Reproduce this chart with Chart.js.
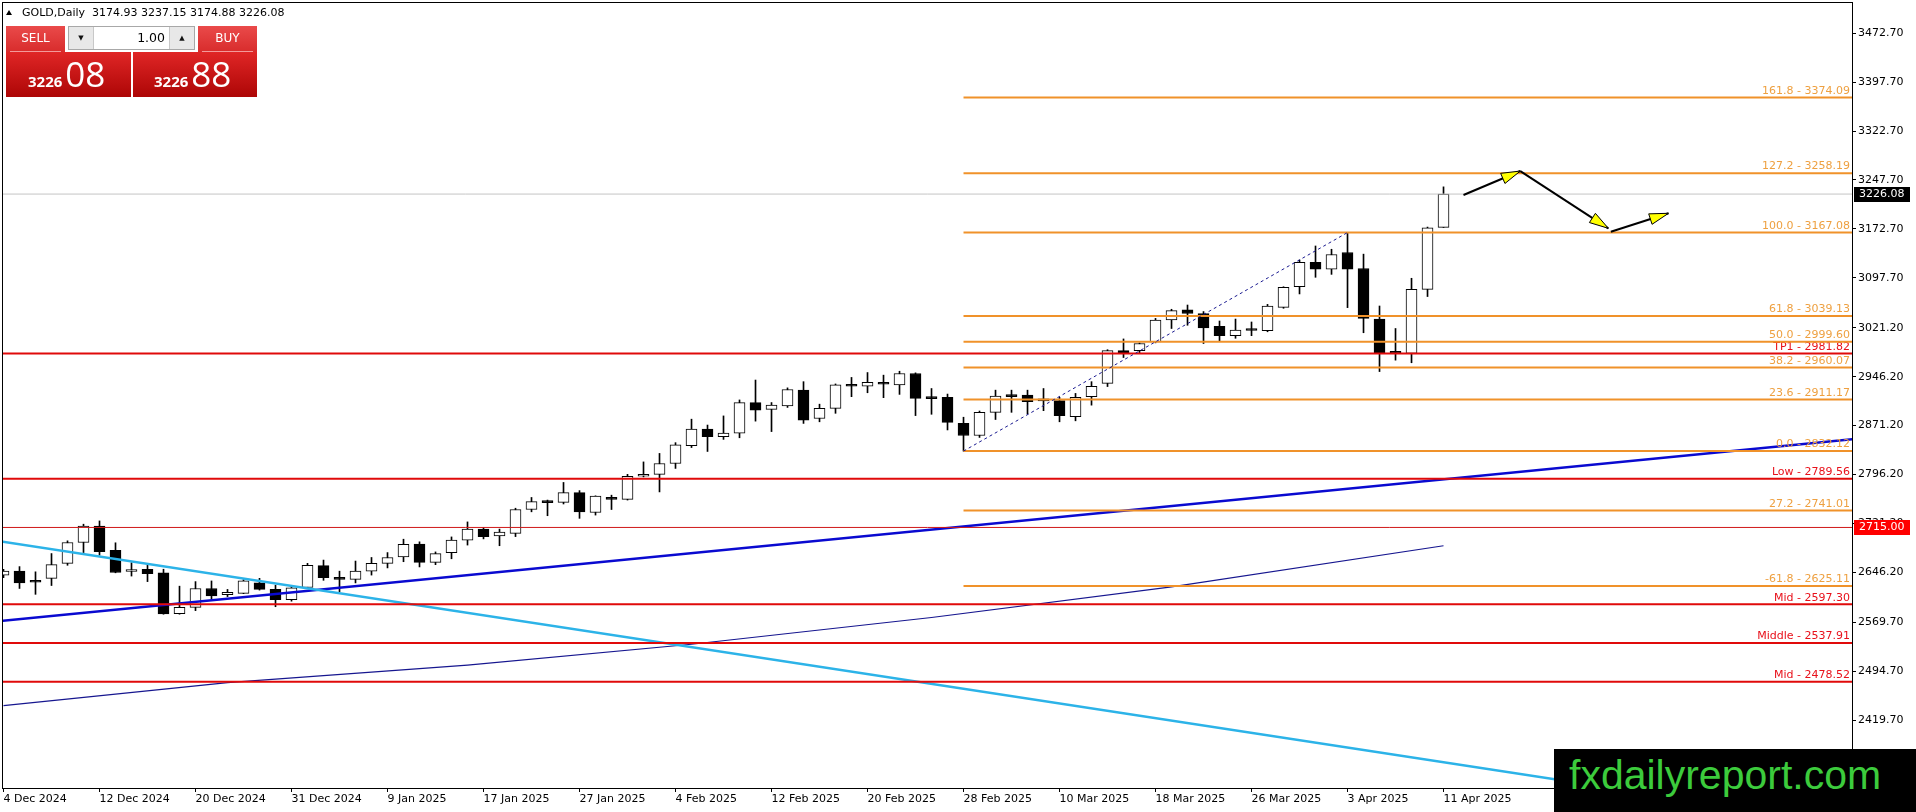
<!DOCTYPE html>
<html>
<head>
<meta charset="utf-8">
<script src="https://cdn.jsdelivr.net/npm/chart.js@4.4.1/dist/chart.umd.min.js"></script>
<style>
html, body { margin: 0; padding: 0; background: #fff; }
#wrap { position: relative; width: 1916px; height: 812px; overflow: hidden; font-family: 'DejaVu Sans', sans-serif; }
#c { position: absolute; left: 0; top: 0; }
.tri { position: absolute; left: 6px; top: 10px; width: 0; height: 0; border-left: 3.5px solid transparent; border-right: 3.5px solid transparent; border-bottom: 5px solid #000; }
.hdr { position: absolute; left: 22px; top: 6px; font-size: 11px; line-height: 14px; color: #000; white-space: pre; }
.btn { position: absolute; top: 26px; height: 26px; background: linear-gradient(#ea4a4a, #d82c2c); color: #fff; font-size: 12px; line-height: 24px; text-align: center; }
.btn::after { content: ''; position: absolute; left: 4px; right: 4px; bottom: 0; height: 1px; background: #f39a9a; }
.spin { position: absolute; left: 68px; top: 26px; width: 125px; height: 22px; border: 1px solid #a8a8a8; background: #fff; }
.spin .arr { position: absolute; top: 0; width: 24px; height: 22px; background: #e8e8e8; font-size: 7px; line-height: 22px; text-align: center; color: #111; }
.spin .val { position: absolute; right: 29px; top: 0; font-size: 12.5px; line-height: 22px; color: #000; }
.pbox { position: absolute; top: 52px; height: 45px; background: linear-gradient(#e02626, #ad0606); color: #fff; }
.pbox .num { position: absolute; left: 22px; bottom: 6px; line-height: 1; white-space: nowrap; font-family: 'Open Sans', sans-serif; }
.pbox .sm { font-size: 15px; font-weight: 700; }
.pbox .bg { font-size: 35px; margin-left: 3px; }
.wm { position: absolute; left: 1554px; top: 749px; width: 362px; height: 63px; background: #000; }
.wm span { position: absolute; left: 15px; top: 6px; font-family: 'Liberation Sans', Arial, sans-serif; font-size: 41px; line-height: 1; color: #3ccb3c; white-space: nowrap; }
</style>
</head>
<body>
<div id="wrap">
  <canvas id="c" width="1916" height="812"></canvas>
  <div class="tri"></div>
  <div class="hdr">GOLD,Daily  3174.93 3237.15 3174.88 3226.08</div>
  <div class="btn" style="left:6px;width:59px;">SELL</div>
  <div class="spin">
    <div class="arr" style="left:0;border-right:1px solid #c8c8c8;">&#9660;</div>
    <div class="val">1.00</div>
    <div class="arr" style="right:0;border-left:1px solid #c8c8c8;">&#9650;</div>
  </div>
  <div class="btn" style="left:198px;width:59px;">BUY</div>
  <div class="pbox" style="left:6px;width:125px;"><div class="num"><span class="sm">3226</span><span class="bg">08</span></div></div>
  <div class="pbox" style="left:133px;width:124px;"><div class="num" style="left:21px;"><span class="sm">3226</span><span class="bg">88</span></div></div>
  <div class="wm"><span>fxdailyreport.com</span></div>
</div>
<script>
// daily candles, 4 Dec 2024 .. 11 Apr 2025
const opens = [2642,2648,2633,2637,2660,2692,2717,2680,2647.5,2651,
  2645.5,2583,2592.5,2621.5,2612,2614,2630,2620,2604.5,2623,
  2656.5,2638.5,2635.5,2648,2660,2670,2689.5,2661.5,2676.5,2695.5,
  2712.5,2702,2706,2742.5,2755,2753.5,2768.5,2738,2761,2758,
  2793.5,2796.5,2813,2840.5,2866,2854,2859.5,2906.5,2896,2901.5,
  2925.5,2882,2897.5,2933.5,2931.5,2937.5,2933.5,2951,2914,2914.5,
  2874.5,2856,2891.5,2918,2918,2910.5,2909.5,2885,2915.5,2936,
  2986,2986,2999.5,3033,3048.5,3043,3023.5,3009,3019,3016.5,
  3052.5,3084,3121.5,3111,3136.5,3112,3034.5,2982.5,2982,3080,
  3174.93];
const highs = [2651,2655,2647,2675,2694.5,2720,2725,2691.5,2661,2657,
  2651,2625,2632,2633,2620,2635,2637,2626.5,2625,2660,
  2665,2648,2663.5,2669,2676.5,2697,2693,2677.5,2700.5,2723.5,
  2715,2712.5,2744.5,2761,2757,2784,2771.5,2763.5,2764.5,2796.5,
  2815.5,2828.5,2845,2881,2872,2886,2910.5,2941,2906.5,2929,
  2938.5,2904,2935,2945,2952.5,2948.5,2954.5,2952,2928,2919.5,
  2884,2893.5,2925.5,2925.5,2925.5,2928,2914.5,2920.5,2938.5,2987.5,
  3004,2998,3035.5,3049.5,3056,3046,3031.5,3034.5,3030,3057,
  3084,3125,3146.5,3141.5,3167.08,3134,3054.5,3020,3097,3175.5,
  3237.15];
const lows = [2638,2621.5,2612.5,2626,2657,2676.5,2672.5,2645.5,2640.5,2632,
  2582,2582,2587.5,2605,2609,2613.5,2619,2593.5,2602,2621.5,
  2634,2616.5,2630,2642,2653,2662.5,2654.5,2658,2667,2688,
  2697.5,2687,2701,2739,2733,2751,2729,2734,2742.5,2757,
  2792.5,2769.5,2805.5,2837.5,2831.5,2850,2852.5,2878,2862,2899,
  2874.5,2877,2890,2915.5,2921.5,2914,2919,2886.5,2888.5,2864.5,
  2832.12,2853,2880.5,2891.5,2889,2894,2877,2878.5,2902.5,2931,
  2975.5,2982,2998,3020,3025,2997,3001,3005,3009,3015,
  3051,3073,3098.5,3103,3052,3013.5,2954,2971.5,2967.5,3069,
  3174.88];
const closes = [2648,2630,2631,2658,2692,2717,2678,2646,2650.5,2644,
  2582.5,2592.5,2621.5,2610,2615.5,2633,2620,2604.5,2622.5,2657,
  2638,2635.5,2648,2660,2669,2689,2661.5,2675,2695.5,2712.5,
  2701,2708,2742.5,2754.5,2753,2768.5,2739,2763,2758,2793.5,
  2796.5,2813,2841.5,2866,2854,2859.5,2906.5,2895,2902.5,2926.5,
  2879.5,2897.5,2933.5,2931.5,2937.5,2934.5,2951,2913,2912.5,2876,
  2856,2891.5,2916.5,2915.5,2908,2909,2886.5,2914.5,2931.5,2986,
  2982,2997,3033,3047.5,3043,3021,3009,3017.5,3017,3054.5,
  3083,3121.5,3111,3133.5,3111,3035.5,2982,2982,3080,3174.5,
  3226.08];

const tickBars = [0,6,12,18,24,30,36,42,48,54,60,66,72,78,84,90];
const tickDates = ['4 Dec 2024','12 Dec 2024','20 Dec 2024','31 Dec 2024','9 Jan 2025','17 Jan 2025',
  '27 Jan 2025','4 Feb 2025','12 Feb 2025','20 Feb 2025','28 Feb 2025','10 Mar 2025',
  '18 Mar 2025','26 Mar 2025','3 Apr 2025','11 Apr 2025'];
const priceTicks = [3472.70,3397.70,3322.70,3247.70,3172.70,3097.70,3021.20,2946.20,2871.20,
  2796.20,2721.20,2646.20,2569.70,2494.70,2419.70];

// fibonacci from the 28 Feb low to the 3 Apr high
const fibNames = ['161.8','127.2','100.0','61.8','50.0','38.2','23.6','0.0','27.2','-61.8'];
const fibValues = [3374.09,3258.19,3167.08,3039.13,2999.60,2960.07,2911.17,2832.12,2741.01,2625.11];
const fibFrom = 60, fibTo = 84;

const redNames = ['TP1','Low','Mid','Middle','Mid'];
const redValues = [2981.82,2789.56,2597.30,2537.91,2478.52];
const markLevel = 2715.00;

// trend lines: [bar, price, bar, price]
const blueLine = [-0.2, 2571.5, 115.6, 2850.3];
const cyanLine = [-0.2, 2693.9, 110, 2280];
// slow moving average read at a few bars
const maBars = [0, 14, 29, 43, 58, 73, 90];
const maValues = [2442, 2477, 2504, 2536, 2577, 2624, 2687];
// projected path drawn with arrows
const arrows = [[91.25, 3224.7, 94.8, 3261.4], [94.8, 3261.4, 100.3, 3173.6], [100.46, 3168.4, 104.06, 3196.6]];

const xMin = -0.03125, xMax = 115.53;
const yMin = 2315.6, yMax = 3519.0;
const lastPrice = closes[closes.length - 1];

Chart.defaults.font.family = "'DejaVu Sans', sans-serif";
Chart.defaults.font.size = 11;
Chart.defaults.color = '#000';

const idx = opens.map((_, i) => i);
const bodies = idx.map(i => ({ x: i, y: [Math.min(opens[i], closes[i]), Math.max(opens[i], closes[i])] }));
const wicks = idx.map(i => ({ x: i, y: [lows[i], highs[i]] }));

const overlay = {
  id: 'overlay',
  afterDatasetsDraw(chart) {
    const { ctx, chartArea: a, scales: { x, y } } = chart;
    const seg = (b1, p1, b2, p2, color, w, dash) => {
      ctx.beginPath();
      ctx.setLineDash(dash || []);
      ctx.strokeStyle = color;
      ctx.lineWidth = w;
      ctx.moveTo(x.getPixelForValue(b1), y.getPixelForValue(p1));
      ctx.lineTo(x.getPixelForValue(b2), y.getPixelForValue(p2));
      ctx.stroke();
    };
    const label = (txt, p, color) => {
      ctx.fillStyle = color;
      ctx.textAlign = 'right';
      ctx.textBaseline = 'bottom';
      ctx.fillText(txt, a.right - 2, y.getPixelForValue(p) - 1);
    };
    ctx.save();
    ctx.beginPath();
    ctx.rect(a.left, a.top, a.right - a.left, a.bottom - a.top);
    ctx.clip();
    ctx.font = "11px 'DejaVu Sans'";

    seg(xMin, lastPrice, xMax, lastPrice, '#c4c4c4', 1);

    // moving average
    ctx.beginPath();
    ctx.setLineDash([]);
    ctx.strokeStyle = '#16168f';
    ctx.lineWidth = 1.2;
    maBars.forEach((b, k) => {
      const px = x.getPixelForValue(b), py = y.getPixelForValue(maValues[k]);
      if (k === 0) ctx.moveTo(px, py); else ctx.lineTo(px, py);
    });
    ctx.stroke();

    seg(blueLine[0], blueLine[1], blueLine[2], blueLine[3], '#0a0ad0', 2.5);
    seg(cyanLine[0], cyanLine[1], cyanLine[2], cyanLine[3], '#2cb3e8', 2.5);

    redValues.forEach((v, k) => {
      seg(xMin, v, xMax, v, '#e00a0a', 2);
      label(redNames[k] + ' - ' + v.toFixed(2), v, '#e8101a');
    });
    seg(xMin, markLevel, xMax, markLevel, '#d01818', 1);

    fibValues.forEach((v, k) => {
      seg(fibFrom, v, xMax, v, '#f0922a', 2);
      label(fibNames[k] + ' - ' + v.toFixed(2), v, '#eea040');
    });
    seg(fibFrom, lows[fibFrom], fibTo, highs[fibTo], '#1a1a90', 1, [3, 3]);

    // arrows
    ctx.setLineDash([]);
    arrows.forEach(ar => {
      const x1 = x.getPixelForValue(ar[0]), y1 = y.getPixelForValue(ar[1]);
      const x2 = x.getPixelForValue(ar[2]), y2 = y.getPixelForValue(ar[3]);
      ctx.beginPath();
      ctx.strokeStyle = '#000';
      ctx.lineWidth = 2;
      ctx.moveTo(x1, y1);
      ctx.lineTo(x2, y2);
      ctx.stroke();
      const ang = Math.atan2(y2 - y1, x2 - x1);
      const len = 19, hw = 5.5;
      const bx = x2 - len * Math.cos(ang), by = y2 - len * Math.sin(ang);
      ctx.beginPath();
      ctx.moveTo(x2, y2);
      ctx.lineTo(bx - hw * Math.sin(ang), by + hw * Math.cos(ang));
      ctx.lineTo(bx + hw * Math.sin(ang), by - hw * Math.cos(ang));
      ctx.closePath();
      ctx.fillStyle = '#ffff00';
      ctx.fill();
      ctx.lineWidth = 1;
      ctx.stroke();
    });
    ctx.restore();
  },
  afterDraw(chart) {
    const { ctx, chartArea: a, scales: { y } } = chart;
    ctx.save();
    ctx.strokeStyle = '#000';
    ctx.lineWidth = 1;
    ctx.strokeRect(a.left - 0.5, a.top - 0.5, a.right - a.left + 1, a.bottom - a.top + 1);
    const box = (p, bg) => {
      const py = Math.round(y.getPixelForValue(p));
      ctx.fillStyle = bg;
      ctx.fillRect(a.right + 2, py - 7, 56, 15);
      ctx.fillStyle = '#fff';
      ctx.font = "11px 'DejaVu Sans'";
      ctx.textAlign = 'left';
      ctx.textBaseline = 'middle';
      ctx.fillText(p.toFixed(2), a.right + 7, py + 0.5);
    };
    box(lastPrice, '#000');
    box(markLevel, '#ff0000');
    ctx.restore();
  }
};

new Chart(document.getElementById('c'), {
  type: 'bar',
  data: {
    datasets: [
      { data: wicks, backgroundColor: '#000', borderWidth: 0, barThickness: 1, grouped: false, order: 2 },
      { data: bodies, backgroundColor: idx.map(i => closes[i] >= opens[i] ? '#fff' : '#000'),
        borderColor: '#000', borderWidth: 1, borderSkipped: false, barThickness: 11, minBarLength: 2,
        grouped: false, order: 1 }
    ]
  },
  options: {
    responsive: false,
    animation: false,
    events: [],
    layout: { padding: { left: 3, top: 3, right: 0, bottom: 0 } },
    plugins: { legend: { display: false }, tooltip: { enabled: false } },
    scales: {
      x: {
        type: 'linear', min: xMin, max: xMax, offset: false,
        grid: { drawOnChartArea: false, drawTicks: true, tickLength: 4, color: '#000', offset: false },
        border: { display: true, color: '#000' },
        ticks: { autoSkip: false, maxRotation: 0, align: 'start', padding: 1, color: '#000',
          callback: v => { const k = tickBars.indexOf(v); return k < 0 ? '' : tickDates[k]; } },
        afterBuildTicks: s => { s.ticks = tickBars.map(v => ({ value: v })); },
        afterFit: s => { s.height = 24; s.paddingLeft = 0; s.paddingRight = 0; }
      },
      y: {
        type: 'linear', position: 'right', min: yMin, max: yMax,
        grid: { drawOnChartArea: false, drawTicks: true, tickLength: 4, color: '#000' },
        border: { display: true, color: '#000' },
        ticks: { padding: 2, color: '#000', callback: v => Number(v).toFixed(2) },
        afterBuildTicks: s => { s.ticks = priceTicks.map(v => ({ value: v })); },
        afterFit: s => { s.width = 64; s.paddingTop = 0; s.paddingBottom = 0; }
      }
    }
  },
  plugins: [overlay]
});
</script>
</body>
</html>
